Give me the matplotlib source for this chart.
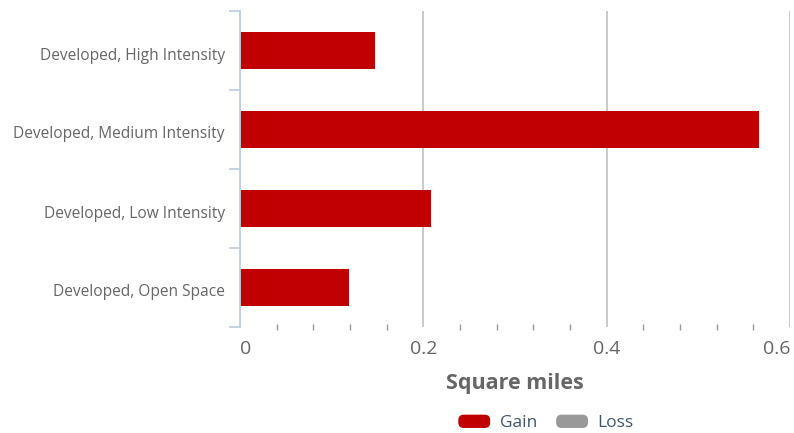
import numpy as np
import matplotlib.pyplot as plt
import matplotlib.transforms as mtransforms
from matplotlib.patches import Patch, FancyBboxPatch
from matplotlib.legend_handler import HandlerPatch

plt.rcParams['font.family'] = ['Open Sans', 'DejaVu Sans']

categories = ['Developed, Open Space', 'Developed, Low Intensity',
              'Developed, Medium Intensity', 'Developed, High Intensity']
gain = [0.119, 0.208, 0.566, 0.147]
loss = []  # no loss values shown
xticks = [0, 0.2, 0.4, 0.6]
xticklabels = ['0', '0.2', '0.4', '0.6']


def rounded_handle(legend, orig_handle, xdescent, ydescent, width, height, fontsize):
    return FancyBboxPatch((-xdescent, -ydescent), width, height,
                          boxstyle='round,pad=0,rounding_size=4')


fig = plt.figure(figsize=(7.94, 4.33), dpi=100)
ax = fig.add_axes([240 / 794, 106 / 433, 550 / 794, 316 / 433])

y = np.arange(len(categories))
ax.barh(y, gain, height=0.48, color='#C00000', zorder=3)

ax.set_xlim(0, 0.6)
ax.set_ylim(-0.5, 3.5)

ax.set_yticks(y)
ax.set_yticklabels(categories, fontsize=11.2, color='#666666')
ax.set_yticks(np.arange(-0.5, 4, 1), minor=True)
ax.tick_params(axis='y', which='major', length=0, pad=11)
ax.tick_params(axis='y', which='minor', length=8, color='#C0D0E0', width=1.3)
shift = mtransforms.ScaledTranslation(0, -3 / 100, fig.dpi_scale_trans)
for lb in ax.get_yticklabels():
    lb.set_transform(lb.get_transform() + shift)

ax.set_xticks(xticks)
ax.set_xticklabels(xticklabels, fontsize=14, color='#666666')
ax.set_xticks(np.arange(0, 0.61, 0.04), minor=True)
ax.tick_params(axis='x', which='major', length=0, pad=9)
ax.tick_params(axis='x', which='minor', length=4, direction='inout', color='#999999', width=1)
ax.grid(axis='x', which='major', color='#C0C0C0', linewidth=1.2, zorder=0)
lbls = ax.get_xticklabels()
lbls[0].set_ha('left')
lbls[0].set_x(0)
lbls[-1].set_ha('right')

for s in ['top', 'right', 'bottom']:
    ax.spines[s].set_visible(False)
ax.spines['left'].set_color('#C0D0E0')
ax.spines['left'].set_linewidth(1.3)
ax.spines['left'].set_zorder(4)

ax.set_xlabel('Square miles', fontsize=15.5, fontweight='bold', color='#666666', labelpad=11)

handles = [Patch(facecolor='#C00000', edgecolor='none', label='Gain'),
           Patch(facecolor='#999999', edgecolor='none', label='Loss')]
leg = fig.legend(handles=handles, loc='center', bbox_to_anchor=(546 / 794, 10 / 433),
                 ncol=2, frameon=False, fontsize=12.5, handlelength=1.84, handleheight=0.8,
                 columnspacing=1.1, handletextpad=0.55,
                 handler_map={Patch: HandlerPatch(patch_func=rounded_handle)})
for t in leg.get_texts():
    t.set_color('#3E576F')

fig.savefig('out.png', dpi=100)
